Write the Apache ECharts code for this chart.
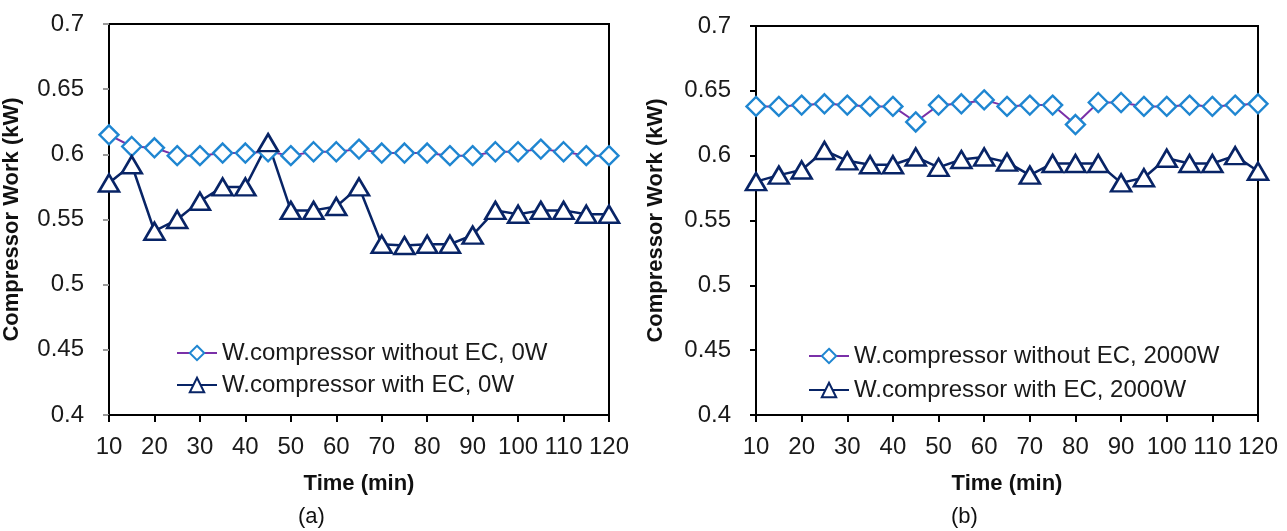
<!DOCTYPE html>
<html>
<head>
<meta charset="utf-8">
<script src="https://cdn.jsdelivr.net/npm/echarts@6/dist/echarts.min.js"></script>
<style>
  html, body { margin: 0; padding: 0; background: #fff; }
  #chart { width: 1287px; height: 531px; }
</style>
</head>
<body>
<div id="chart"></div>
<script>
// time axis (min)
const time = [10, 15, 20, 25, 30, 35, 40, 45, 50, 55, 60, 65, 70, 75, 80, 85, 90, 95, 100, 105, 110, 115, 120];

// (a) 0W
const noEc0W = [0.615, 0.606, 0.605, 0.599, 0.599, 0.601, 0.601, 0.602, 0.599, 0.602, 0.602, 0.604,
    0.601, 0.601, 0.601, 0.599, 0.599, 0.602, 0.602, 0.604, 0.602, 0.599, 0.599];
const withEc0W = [0.578, 0.592, 0.541, 0.550, 0.564, 0.575, 0.575, 0.609, 0.557, 0.557, 0.560, 0.575,
    0.531, 0.530, 0.531, 0.531, 0.538, 0.557, 0.554, 0.557, 0.557, 0.554, 0.554];

// (b) 2000W
const noEc2000W = [0.638, 0.638, 0.639, 0.640, 0.639, 0.638, 0.638, 0.626, 0.639, 0.640, 0.643, 0.638,
    0.639, 0.639, 0.624, 0.641, 0.641, 0.638, 0.638, 0.639, 0.638, 0.639, 0.640];
const withEc2000W = [0.580, 0.585, 0.589, 0.604, 0.596, 0.593, 0.593, 0.599, 0.591, 0.597, 0.599, 0.595,
    0.585, 0.594, 0.594, 0.594, 0.579, 0.583, 0.598, 0.594, 0.594, 0.600, 0.588];

const legendA = ['W.compressor without EC, 0W', 'W.compressor with EC, 0W'];
const legendB = ['W.compressor without EC, 2000W', 'W.compressor with EC, 2000W'];
const xRange = [10, 120, 10];
const yRange = [0.4, 0.7, 0.05];

const font = '"Liberation Sans", Arial, sans-serif';
const chart = echarts.init(document.getElementById('chart'));

function pairs(vals) {
    return time.map((t, i) => [t, vals[i]]);
}

function xAxis(idx) {
    return {
        type: 'value', gridIndex: idx,
        min: xRange[0], max: xRange[1], interval: xRange[2],
        name: 'Time (min)', nameLocation: 'middle', nameGap: 58,
        nameTextStyle: {fontFamily: font, fontSize: 22, fontWeight: 'bold', color: '#111'},
        axisLine: {lineStyle: {color: '#000', width: 2}},
        axisTick: {inside: false, length: 7, lineStyle: {color: '#000', width: 2}},
        axisLabel: {fontFamily: font, fontSize: 24, color: '#1a1a1a', margin: 20},
        splitLine: {show: false}
    };
}

function yAxis(idx, gap) {
    return {
        type: 'value', gridIndex: idx,
        min: yRange[0], max: yRange[1], interval: yRange[2],
        name: 'Compressor Work (kW)', nameLocation: 'middle', nameGap: gap,
        nameTextStyle: {fontFamily: font, fontSize: 22, fontWeight: 'bold', color: '#111'},
        axisLine: {show: true, lineStyle: {color: '#000', width: 2}},
        axisTick: {show: true, length: 6, lineStyle: {color: idx === 0 ? '#999' : '#000', width: 2}},
        axisLabel: {fontFamily: font, fontSize: 24, color: '#1a1a1a', margin: 25,
            formatter: v => String(+v.toFixed(2))},
        splitLine: {show: false}
    };
}

function diamondSeries(name, idx, vals) {
    return {
        name: name, type: 'line', xAxisIndex: idx, yAxisIndex: idx,
        data: pairs(vals),
        symbol: 'diamond', symbolSize: 19,
        lineStyle: {color: '#7a30a8', width: 2},
        itemStyle: {color: '#fff', borderColor: '#1f86d1', borderWidth: 2.4}
    };
}

function triangleSeries(name, idx, vals) {
    return {
        name: name, type: 'line', xAxisIndex: idx, yAxisIndex: idx,
        data: pairs(vals),
        symbol: 'triangle', symbolSize: [20, 17],
        lineStyle: {color: '#082466', width: 2.5},
        itemStyle: {color: '#fff', borderColor: '#082466', borderWidth: 2.6}
    };
}

function legend(names, left, top, gap) {
    return {
        data: names, orient: 'vertical', left: left, top: top,
        itemWidth: 40, itemHeight: 18, itemGap: gap,
        textStyle: {fontFamily: font, fontSize: 24, color: '#1a1a1a', lineHeight: 24}
    };
}

const options = {
    backgroundColor: '#fff',
    animation: false,
    grid: [
        {left: 108, top: 24, width: 501, height: 391, show: true, borderColor: '#000', borderWidth: 2},
        {left: 756, top: 26, width: 502, height: 389, show: true, borderColor: '#000', borderWidth: 2}
    ],
    xAxis: [xAxis(0), xAxis(1)],
    yAxis: [yAxis(0, 86), yAxis(1, 89)],
    legend: [legend(legendA, 171, 336, 8), legend(legendB, 803, 339, 10)],
    graphic: [
        {type: 'text', left: 298, top: 506, style: {text: '(a)', font: '22px ' + font, fill: '#111'}},
        {type: 'text', left: 951, top: 506, style: {text: '(b)', font: '22px ' + font, fill: '#111'}}
    ],
    series: [
        diamondSeries(legendA[0], 0, noEc0W),
        triangleSeries(legendA[1], 0, withEc0W),
        diamondSeries(legendB[0], 1, noEc2000W),
        triangleSeries(legendB[1], 1, withEc2000W)
    ]
};

chart.setOption(options);
</script>
</body>
</html>
